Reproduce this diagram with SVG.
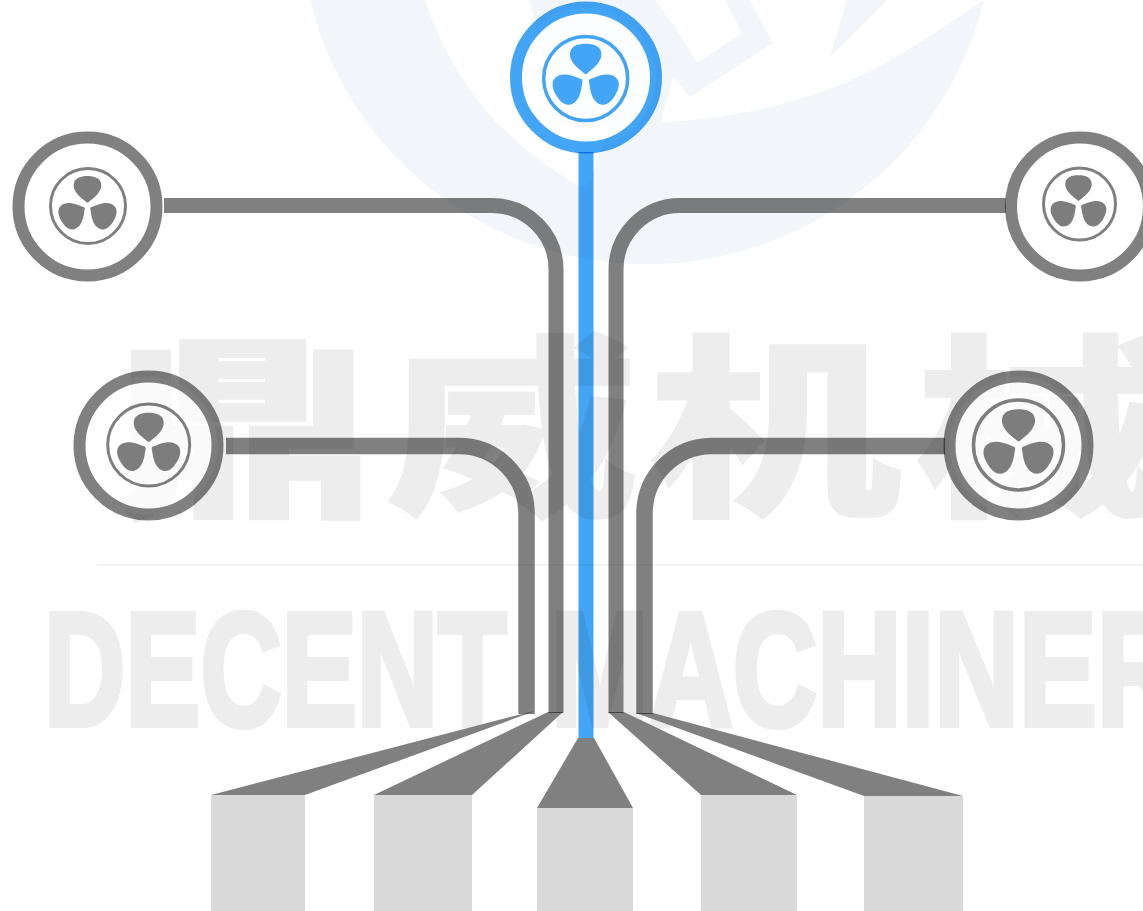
<svg xmlns="http://www.w3.org/2000/svg" xmlns:xlink="http://www.w3.org/1999/xlink" width="1143" height="911" viewBox="0 0 1143 911">
<style>
.tint{fill:#f2f6fa}
.wm{fill:#ededed;stroke:#ededed;stroke-linejoin:miter}
.zh{font-family:"Noto Sans CJK SC","Liberation Sans",sans-serif;font-weight:900;font-size:195px;stroke-width:1.5px}
.en{font-family:"Liberation Sans",sans-serif;font-weight:700;font-size:162px;stroke-width:6px}
.box{fill:#d9d9d9}
.taper{fill:#808080}
.line{fill:none;stroke:#808080;mix-blend-mode:multiply}
.blue{stroke:#42a5f5}
.disc{fill:#fff;fill-opacity:.72}
.ring{fill:none;stroke:#808080;mix-blend-mode:multiply}
.fan{fill:#7d7d7d}
.hot .ring{stroke:#42a5f5}
.hot .fan{fill:#42a5f5}
.hub{fill:#fff}
</style>
<defs>
<path id="blade" d="M0,-3 C-3,-6 -8,-9 -11,-13 C-14.5,-17.5 -15,-21 -14.5,-24 C-13.5,-30 -7,-32 0,-32 C7,-32 13.5,-30 14.5,-24 C15,-21 14.5,-17.5 11,-13 C8,-9 3,-6 0,-3 Z"/>
<g id="fan">
<use xlink:href="#blade" href="#blade"/>
<use xlink:href="#blade" href="#blade" transform="rotate(120)"/>
<use xlink:href="#blade" href="#blade" transform="rotate(240)"/>
<circle class="hub" r="3.6"/>
</g>
</defs>
<rect width="1143" height="911" fill="#fff"/>
<g id="watermark">
<path class="tint" d="M310,0 A347,347 0 0 0 984,0 L973,7 C940,30 880,70 840,85 C790,105 720,122 640,123 L610,125 L586,190 C560,175 530,155 510,135 C480,110 445,60 425,0 Z"/>
<path class="tint" d="M530,0 H655 L677,30 L697,63 L742,33 L725,0 H750 L773,43 L690,97 L673,77 L660,125 H560 Z"/>
<path class="tint" d="M830,57 L847,0 H887 Z"/>
<text class="wm zh" transform="translate(108,501) scale(1.38,1)">鼎</text>
<text class="wm zh" transform="translate(385,501) scale(1.3,1)">威</text>
<text class="wm zh" transform="translate(648,501) scale(1.3,1)">机</text>
<text class="wm zh" transform="translate(915,501) scale(1.3,1)">械</text>
<rect x="97" y="564" width="1046" height="2" fill="#f4f4f4"/>
<text class="wm en" transform="translate(44,725) scale(.695,1)">DECENT</text>
<text class="wm en" transform="translate(551,725) scale(.722,1)">MACHINERY</text>
</g>
<g id="connectors">
<polygon class="taper" points="211,795 305,795 535,711 518,715"/>
<polygon class="taper" points="374,795 472,795 563,712 548,712"/>
<polygon class="taper" points="537,808 633,808 594,738 578,738"/>
<polygon class="taper" points="701,795 797,795 624,712 608,712"/>
<polygon class="taper" points="864,796 963,796 653,713 636,713"/>
<path class="line" stroke-width="15" d="M164,205.5 H492 A64,64 0 0 1 556,269.5 V713"/>
<path class="line" stroke-width="15" d="M1006,205.5 H680 A64,64 0 0 0 616,269.5 V713"/>
<path class="line" stroke-width="16.5" d="M226,446 H459 A67.5,67.5 0 0 1 526.5,513.5 V714"/>
<path class="line" stroke-width="16.5" d="M945,446 H711.5 A67.5,67.5 0 0 0 644.5,513 V714"/>
<path class="line blue" stroke-width="15" d="M586,152 V738"/>
</g>
<g id="box-1"><rect class="box" x="211" y="795" width="94" height="116"/></g>
<g id="box-2"><rect class="box" x="374" y="795" width="98" height="116"/></g>
<g id="box-3"><rect class="box" x="537" y="808" width="96" height="103"/></g>
<g id="box-4"><rect class="box" x="701" y="795" width="96" height="116"/></g>
<g id="box-5"><rect class="box" x="864" y="796" width="99" height="115"/></g>
<g id="fan-top" class="hot">
<circle class="disc" cx="586" cy="77.5" r="70"/>
<circle class="ring" cx="586" cy="77.5" r="70" stroke-width="12"/>
<circle class="ring" cx="585.7" cy="78.5" r="42" stroke-width="3.5"/>
<use class="fan" xlink:href="#fan" href="#fan" transform="translate(585.7,78) scale(1.07)"/>
</g>
<g id="fan-left-upper">
<circle class="disc" cx="87.5" cy="206.5" r="69"/>
<circle class="ring" cx="87.5" cy="206.5" r="69" stroke-width="12"/>
<circle class="ring" cx="88" cy="206" r="37.5" stroke-width="3"/>
<use class="fan" xlink:href="#fan" href="#fan" transform="translate(87.5,206) scale(.94)"/>
</g>
<g id="fan-right-upper">
<circle class="disc" cx="1080" cy="206.5" r="69"/>
<circle class="ring" cx="1080" cy="206.5" r="69" stroke-width="12"/>
<circle class="ring" cx="1079.5" cy="204" r="36" stroke-width="3"/>
<use class="fan" xlink:href="#fan" href="#fan" transform="translate(1078.5,204) scale(.9)"/>
</g>
<g id="fan-left-lower">
<circle class="disc" cx="148.5" cy="445.5" r="69"/>
<circle class="ring" cx="148.5" cy="445.5" r="69" stroke-width="12"/>
<circle class="ring" cx="148.7" cy="445" r="41" stroke-width="3"/>
<use class="fan" xlink:href="#fan" href="#fan" transform="translate(148.7,445.5) scale(1.02)"/>
</g>
<g id="fan-right-lower">
<circle class="disc" cx="1018.5" cy="445.5" r="69"/>
<circle class="ring" cx="1018.5" cy="445.5" r="69" stroke-width="12"/>
<circle class="ring" cx="1018.5" cy="445" r="45" stroke-width="3.5"/>
<use class="fan" xlink:href="#fan" href="#fan" transform="translate(1018.5,445.5) scale(1.13)"/>
</g>
</svg>
